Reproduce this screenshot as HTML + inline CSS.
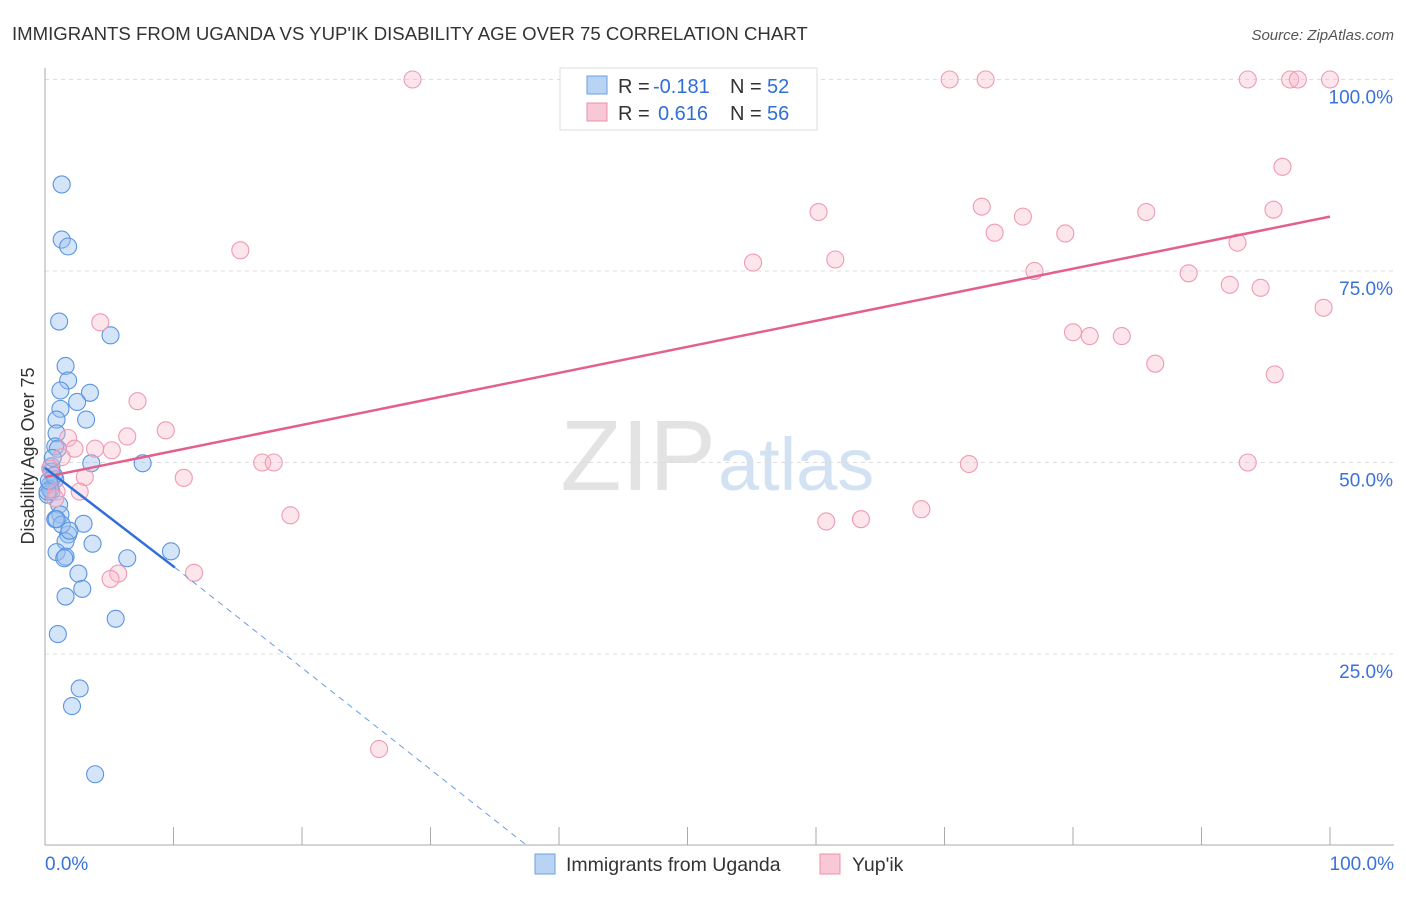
<!DOCTYPE html>
<html><head><meta charset="utf-8"><style>
body{margin:0;background:#fff;font-family:"Liberation Sans",sans-serif}
svg text{font-family:"Liberation Sans",sans-serif}
</style></head><body>
<svg id="c" width="1406" height="892" xmlns="http://www.w3.org/2000/svg">
<text x="12" y="40" font-size="18.6" fill="#333">IMMIGRANTS FROM UGANDA VS YUP'IK DISABILITY AGE OVER 75 CORRELATION CHART</text>
<text x="1394" y="40" font-size="15" fill="#555" text-anchor="end" font-style="italic">Source: ZipAtlas.com</text>
<text x="716" y="490" font-size="100" fill="#e3e3e3" text-anchor="end" font-family="Liberation Serif">ZIP</text>
<text x="718" y="490" font-size="74" fill="#d3e2f3">atlas</text>
<text transform="translate(34,456) rotate(-90)" font-size="18" fill="#333" text-anchor="middle">Disability Age Over 75</text>
<g id="grid"></g><g id="axes"></g><g id="pts"></g><g id="trend"></g>
<g>
<rect x="560" y="68" width="257" height="62" fill="#fff" stroke="#ddd"/>
<rect x="587" y="76" width="20" height="18" fill="#b8d3f3" stroke="#6a9fe0"/>
<text x="618" y="93" font-size="20" fill="#333">R =</text>
<text x="653" y="93" font-size="20" fill="#2f6fd6">-0.181</text>
<text x="730" y="93" font-size="20" fill="#333">N =</text>
<text x="767" y="93" font-size="20" fill="#2f6fd6">52</text>
<rect x="587" y="103" width="20" height="18" fill="#f8c8d6" stroke="#ec8fab"/>
<text x="618" y="120" font-size="20" fill="#333">R =</text>
<text x="658" y="120" font-size="20" fill="#2f6fd6">0.616</text>
<text x="730" y="120" font-size="20" fill="#333">N =</text>
<text x="767" y="120" font-size="20" fill="#2f6fd6">56</text>
</g>
<g>
<rect x="535" y="854" width="20" height="20" fill="#b8d3f3" stroke="#6a9fe0"/>
<text x="566" y="871" font-size="19.5" fill="#333">Immigrants from Uganda</text>
<rect x="820" y="854" width="20" height="20" fill="#f8c8d6" stroke="#ec8fab"/>
<text x="852" y="871" font-size="19.5" fill="#333">Yup'ik</text>
</g>
</svg>
<script>
const blueX=[1.3,1.3,1.8,1.1,5.1,1.6,1.8,1.2,3.5,2.5,1.2,3.2,0.9,0.9,0.8,1,3.6,7.6,0.5,0.5,0.8,0.4,0.5,0.2,1.1,1.2,3,0.8,1.8,1.6,3.7,0.9,6.4,9.8,1.6,1.5,2.6,2.9,1.6,5.5,1,2.7,2.1,3.9,0.4,0.7,0.2,0.6,1.3,0.9,0.3,1.9];
const blueY=[86.3,79.1,78.2,68.4,66.6,62.6,60.7,59.4,59.1,57.9,57,55.6,55.6,53.8,52.1,51.8,49.9,49.9,49.5,48.8,47.8,47.1,46.2,45.8,44.5,43.2,42,42.6,40.6,39.7,39.4,38.3,37.5,38.4,37.7,37.5,35.5,33.5,32.5,29.6,27.6,20.5,18.2,9.3,46.5,48.3,46.2,50.6,41.9,42.6,47.6,41.1];
const pinkX=[28.6,70.4,73.2,93.6,96.9,97.5,100,58.4,96.3,95.6,60.2,72.9,76.1,85.7,73.9,79.4,15.2,92.8,55.1,61.5,77,89,92.2,94.6,99.5,4.3,80,81.3,83.8,86.4,95.7,7.2,9.4,6.4,1.8,3.9,2.3,5.2,1.3,16.9,17.8,71.9,93.6,10.8,3.1,0.9,2.7,19.1,60.8,63.5,68.2,11.6,5.7,5.1,26,0.8,0.4];
const pinkY=[100,100,100,100,100,100,100,100,88.6,83,82.7,83.4,82.1,82.7,80,79.9,77.7,78.7,76.1,76.5,75,74.7,73.2,72.8,70.2,68.3,67,66.5,66.5,62.9,61.5,58,54.2,53.4,53.2,51.8,51.8,51.6,50.7,50,50,49.8,50,48,48.1,46.2,46.2,43.1,42.3,42.6,43.9,35.6,35.5,34.8,12.6,45.3,49.2];
const yTicks=[25,50,75,100];
const yTickLabels=["25.0%","50.0%","75.0%","100.0%"];
const xTicks=[0,10,20,30,40,50,60,70,80,90,100];
const xEndLabels=["0.0%","100.0%"];
const pinkTrend=[0,48.1,100,82.1];
const blueTrend=[0,49.3,10.1,36.3,37.5,0];
const NS="http://www.w3.org/2000/svg";
const sx=v=>45+v*12.85, sy=v=>845.5-v*7.66;
function mk(p,t,a){const e=document.createElementNS(NS,t);for(const k in a)e.setAttribute(k,a[k]);document.getElementById(p).appendChild(e);return e;}
yTicks.forEach((t,i)=>{
 const l=mk('grid','line',{x1:45,x2:1394,y1:sy(t),y2:sy(t),stroke:'#ddd','stroke-dasharray':'4,4'});
 
 
 const tx=mk('grid','text',{x:1393,y:sy(t)+24,'font-size':19,fill:'#3a72d8','text-anchor':'end'});
 tx.textContent=yTickLabels[i];
 
 
});
const ax=mk('axes','line',{x1:45,x2:45,y1:68,y2:845,stroke:'#aaa'});


const bx=mk('axes','line',{x1:45,x2:1394,y1:845,y2:845,stroke:'#aaa'});


xTicks.forEach(t=>{
 const l=mk('axes','line',{x1:sx(t),x2:sx(t),y1:827,y2:845,stroke:'#aaa'});
 
 
});
[[0,'start',45],[100,'end',1394]].forEach((d,i)=>{
 const tx=mk('axes','text',{x:d[2],y:870,'font-size':19,fill:'#3a72d8','text-anchor':d[1]});
 tx.textContent=xEndLabels[i];
 
 
});
blueX.forEach((x,i)=>{
 const c=mk('pts','circle',{cx:sx(x),cy:sy(blueY[i]),r:8.5,fill:'rgba(150,190,240,0.4)',stroke:'#5a95e0','stroke-width':1.1});
 
 
});
pinkX.forEach((x,i)=>{
 const c=mk('pts','circle',{cx:sx(x),cy:sy(pinkY[i]),r:8.5,fill:'rgba(248,180,200,0.35)',stroke:'#ef9ab3','stroke-width':1.1});
 
 
});
const pt=mk('trend','line',{x1:sx(pinkTrend[0]),y1:sy(pinkTrend[1]),x2:sx(pinkTrend[2]),y2:sy(pinkTrend[3]),stroke:'#e4608c','stroke-width':2.5});


const bt=mk('trend','line',{x1:sx(blueTrend[0]),y1:sy(blueTrend[1]),x2:sx(blueTrend[2]),y2:sy(blueTrend[3]),stroke:'#2f6fd6','stroke-width':2.5});


const bd=mk('trend','line',{x1:sx(blueTrend[2]),y1:sy(blueTrend[3]),x2:sx(blueTrend[4]),y2:sy(blueTrend[5]),stroke:'#6a9be0','stroke-width':1,'stroke-dasharray':'6,5'});


</script>
</body></html>
